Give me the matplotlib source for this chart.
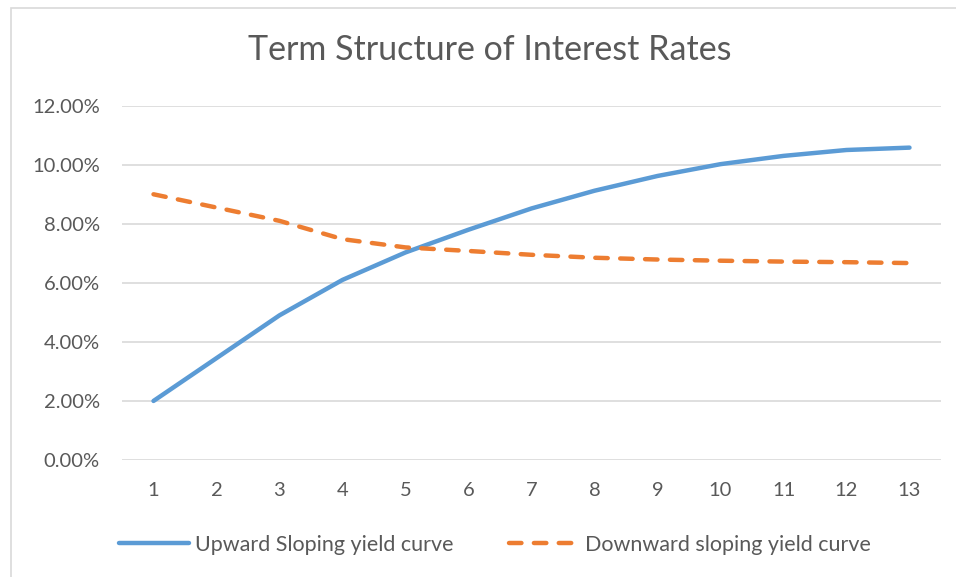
import matplotlib
matplotlib.use("Agg")
import matplotlib.pyplot as plt
from matplotlib.patches import Rectangle
from matplotlib.ticker import FuncFormatter

# Maturity (years) and yields in percent
maturities = [1, 2, 3, 4, 5, 6, 7, 8, 9, 10, 11, 12, 13]
upward_yields = [2.0, 3.45, 4.9, 6.1, 7.03, 7.8, 8.52, 9.12, 9.62, 10.02, 10.3, 10.5, 10.58]
downward_yields = [9.0, 8.55, 8.1, 7.48, 7.2, 7.08, 6.95, 6.85, 6.79, 6.75, 6.72, 6.7, 6.67]
series_labels = ["Upward Sloping yield curve", "Downward sloping yield curve"]
title_text = "Term Structure of Interest Rates"
y_ticks = [0, 2, 4, 6, 8, 10, 12]

TEXT = "#595959"
GRID = "#d9d9d9"
BLUE = "#5b9bd5"
ORANGE = "#ed7d31"
FONT = "Lato"
LABEL_SIZE = 14.5
LEGEND_SIZE = 15.5

fig = plt.figure(figsize=(9.56, 5.77), dpi=100)
fig.patch.set_facecolor("white")

# chart-area border
fig.patches.append(Rectangle((10.5 / 956, -0.05), 1.2, 1 - 7.5 / 577 + 0.05,
                             transform=fig.transFigure, fill=False,
                             edgecolor="#d9d9d9", linewidth=1.2))

ax = fig.add_axes([122 / 956, 1 - 460 / 577, (941 - 122) / 956, (460 - 105.7) / 577])

ax.plot(maturities, upward_yields, color=BLUE, lw=3.2, solid_capstyle="round",
        solid_joinstyle="round", label=series_labels[0], zorder=3)
ax.plot(maturities, downward_yields, color=ORANGE, lw=3.2, dashes=(2.8, 2.8),
        dash_capstyle="round", dash_joinstyle="round", label=series_labels[1], zorder=3)

ax.set_xlim(0.5, 13.5)
ax.set_ylim(0, 12)
ax.set_xticks(maturities)
ax.set_xticklabels([str(m) for m in maturities])
ax.set_yticks(y_ticks)
ax.yaxis.set_major_formatter(FuncFormatter(lambda v, p: f"{v:.2f}%"))

ax.grid(axis="y", color=GRID, lw=1.2)
ax.set_axisbelow(True)
for s in ax.spines.values():
    s.set_visible(False)
ax.tick_params(length=0, labelsize=LABEL_SIZE, labelcolor=TEXT)
ax.tick_params(axis="y", pad=16)
ax.tick_params(axis="x", pad=16)
for lbl in ax.get_xticklabels() + ax.get_yticklabels():
    lbl.set_fontfamily(FONT)

fig.text(489.5 / 956, 1 - 50 / 577, title_text, ha="center", va="center",
         fontsize=24.5, color=TEXT, family=FONT)

leg = fig.legend(loc="center", bbox_to_anchor=(495 / 956, 1 - 545 / 577), ncol=2,
                 frameon=False, handlelength=3.25, columnspacing=2.55,
                 handletextpad=0.28, prop={"family": FONT, "size": LEGEND_SIZE})
for t in leg.get_texts():
    t.set_color(TEXT)

fig.savefig("out.png", dpi=100)
